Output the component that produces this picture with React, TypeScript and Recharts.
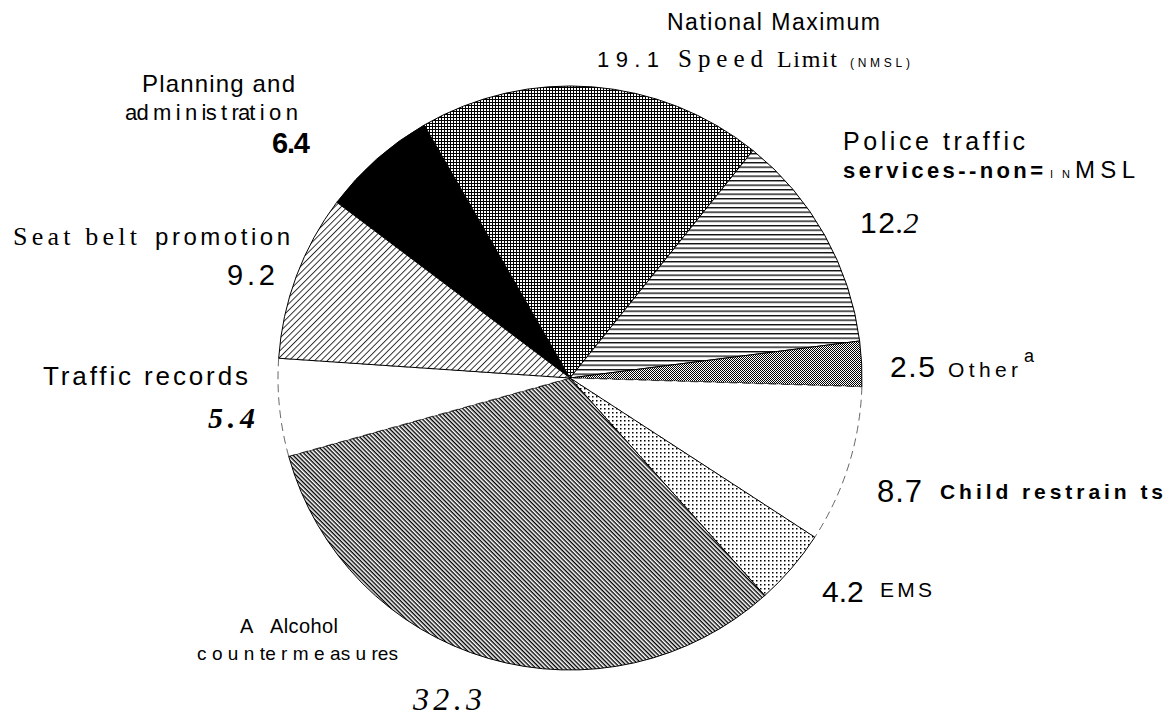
import React from 'react';
import { PieChart, Pie, Cell } from 'recharts';

// ---- data ----
const categories = [
  'Planning and administration',
  'National Maximum Speed Limit (NMSL)',
  'Police traffic services--non-NMSL',
  'Other',
  'Child restraints',
  'EMS',
  'Alcohol countermeasures',
  'Traffic records',
  'Seat belt promotion',
];
const values = [6.4, 19.1, 12.2, 2.5, 8.7, 4.2, 32.3, 5.4, 9.2];
const valueLabels = values.map((v) => v.toFixed(1));
const fills = [
  '#000000',
  'url(#pGrid)',
  'url(#pHoriz)',
  'url(#pChecker)',
  '#ffffff',
  'url(#pDots)',
  'url(#pBack)',
  '#ffffff',
  'url(#pFwd)',
];

const data = categories.map((name, i) => ({ name, value: values[i] }));

const SANS = '"Liberation Sans", Arial, Helvetica, sans-serif';
const SERIF = '"Liberation Serif", "Times New Roman", serif';

export default function App() {
  const [pPlan, pNmsl, pPolice, pOther, pChild, pEms, pAlc, pTraffic, pSeat] = valueLabels;
  return (
    <div style={{ position: 'absolute', left: 0, top: 0, width: 1169, height: 718, background: '#fff' }}>
      <PieChart width={1169} height={718} margin={{ top: 0, right: 0, bottom: 0, left: 0 }}>
        <defs>
          <pattern id="pGrid" width="3" height="3" patternUnits="userSpaceOnUse">
            <rect width="3" height="3" fill="#fff" />
            <path d="M0 0.5H3M0.5 0V3" stroke="#000" strokeWidth="1" />
          </pattern>
          <pattern id="pHoriz" width="4.5" height="4.5" patternUnits="userSpaceOnUse">
            <rect width="4.5" height="4.5" fill="#fff" />
            <path d="M0 0.7H4.5" stroke="#000" strokeWidth="1.3" />
          </pattern>
          <pattern id="pChecker" width="2" height="2" patternUnits="userSpaceOnUse">
            <rect width="2" height="2" fill="#fff" />
            <rect width="1" height="1" fill="#000" />
            <rect x="1" y="1" width="1" height="1" fill="#000" />
          </pattern>
          <pattern id="pDots" width="4" height="4" patternUnits="userSpaceOnUse">
            <rect width="4" height="4" fill="#fff" />
            <rect width="1.5" height="1.5" fill="#000" />
          </pattern>
          <pattern id="pBack" width="3" height="3" patternUnits="userSpaceOnUse" patternTransform="rotate(45)">
            <rect width="3" height="3" fill="#fff" />
            <path d="M0 0.7H3" stroke="#000" strokeWidth="1.4" />
          </pattern>
          <pattern id="pFwd" width="4.5" height="4.5" patternUnits="userSpaceOnUse" patternTransform="rotate(-45)">
            <rect width="4.5" height="4.5" fill="#fff" />
            <path d="M0 0.5H4.5" stroke="#000" strokeWidth="0.8" />
          </pattern>
        </defs>
        <Pie
          data={data}
          dataKey="value"
          nameKey="name"
          cx={570}
          cy={378}
          innerRadius={0}
          outerRadius={292}
          startAngle={143}
          endAngle={-217}
          isAnimationActive={false}
          stroke="#000"
          strokeWidth={1}
          label={false}
          labelLine={false}
        >
          {data.map((d, i) => (
            <Cell
              key={d.name}
              fill={fills[i]}
              stroke="#000"
              strokeWidth={fills[i] === '#ffffff' ? 0.6 : 1}
              strokeDasharray={fills[i] === '#ffffff' ? '8 5' : undefined}
            />
          ))}
        </Pie>

        {/* Planning and administration */}
        <text x={142} y={92} fontFamily={SANS} fontSize={24} textLength={153} lengthAdjust="spacing" fill="#000">Planning and</text>
        <text x={125} y={120} fontFamily={SANS} fontSize={22} textLength={173} lengthAdjust="spacing" fill="#000">ad m i n is t rat i o n</text>
        <text x={272} y={153} fontFamily={SANS} fontSize={29} fontWeight="bold" textLength={38} lengthAdjust="spacing" fill="#000">{pPlan}</text>

        {/* NMSL */}
        <text x={667} y={30} fontFamily={SANS} fontSize={23} textLength={213} lengthAdjust="spacing" fill="#000">National Maximum</text>
        <text y={67} fill="#000">
          <tspan x={597} fontFamily={SANS} fontSize={22} textLength={62} lengthAdjust="spacing">{pNmsl}</tspan>
          <tspan x={678} fontFamily={SERIF} fontSize={25} textLength={85} lengthAdjust="spacing">Speed</tspan>
          <tspan x={777} fontFamily={SERIF} fontSize={24} textLength={60} lengthAdjust="spacing">Limit</tspan>
          <tspan x={850} fontFamily={SANS} fontSize={12} textLength={60} lengthAdjust="spacing">(NMSL)</tspan>
        </text>

        {/* Police traffic services */}
        <text x={843} y={150} fontFamily={SANS} fontSize={25} textLength={182} lengthAdjust="spacing" fill="#000">Police traffic</text>
        <text y={178} fill="#000">
          <tspan x={843} fontFamily={SANS} fontSize={22} fontWeight="bold" textLength={200} lengthAdjust="spacing">services--non=</tspan>
          <tspan x={1050} fontFamily={SANS} fontSize={11} textLength={20} lengthAdjust="spacing">IN</tspan>
          <tspan x={1075} fontFamily={SANS} fontSize={24} textLength={60} lengthAdjust="spacing">MSL</tspan>
        </text>
        <text y={233} fill="#000">
          <tspan x={860} fontFamily={SANS} fontSize={30} textLength={35} lengthAdjust="spacing">{pPolice.split('.')[0]}</tspan>
          <tspan x={896} fontFamily={SERIF} fontSize={30} fontStyle="italic">{'.' + pPolice.split('.')[1]}</tspan>
        </text>

        {/* Other */}
        <text y={377} fill="#000">
          <tspan x={890} fontFamily={SANS} fontSize={30} textLength={45} lengthAdjust="spacing">{pOther}</tspan>
          <tspan x={948} fontFamily={SANS} fontSize={21} textLength={70} lengthAdjust="spacing">Other</tspan>
          <tspan x={1024} y={362} fontFamily={SANS} fontSize={18}>a</tspan>
        </text>

        {/* Child restraints */}
        <text y={502} fill="#000">
          <tspan x={877} fontFamily={SANS} fontSize={31} textLength={45} lengthAdjust="spacing">{pChild}</tspan>
          <tspan x={940} y={499} fontFamily={SANS} fontSize={21} fontWeight="bold" textLength={223} lengthAdjust="spacing">Child restrain ts</tspan>
        </text>

        {/* EMS */}
        <text y={602} fill="#000">
          <tspan x={822} fontFamily={SANS} fontSize={30}>{pEms}</tspan>
          <tspan x={880} y={597} fontFamily={SANS} fontSize={21} textLength={52} lengthAdjust="spacing">EMS</tspan>
        </text>

        {/* Alcohol countermeasures */}
        <text y={633} fill="#000">
          <tspan x={240} fontFamily={SANS} fontSize={20}>A</tspan>
          <tspan x={270} fontFamily={SANS} fontSize={20} textLength={68} lengthAdjust="spacing">Alcohol</tspan>
        </text>
        <text x={197} y={660} fontFamily={SANS} fontSize={19} textLength={201} lengthAdjust="spacing" fill="#000">c o u n te r m e as u res</text>
        <text x={413} y={710} fontFamily={SERIF} fontSize={32} fontStyle="italic" textLength={69} lengthAdjust="spacing" fill="#000">{pAlc}</text>

        {/* Traffic records */}
        <text x={43} y={385} fontFamily={SANS} fontSize={26} textLength={205} lengthAdjust="spacing" fill="#000">Traffic records</text>
        <text x={208} y={428} fontFamily={SERIF} fontSize={30} fontStyle="italic" fontWeight="bold" textLength={47} lengthAdjust="spacing" fill="#000">{pTraffic}</text>

        {/* Seat belt promotion */}
        <text y={245} fill="#000">
          <tspan x={13} fontFamily={SERIF} fontSize={26} textLength={124} lengthAdjust="spacing">Seat belt</tspan>
          <tspan x={155} fontFamily={SANS} fontSize={24} textLength={135} lengthAdjust="spacing">promotion</tspan>
        </text>
        <text x={227} y={285} fontFamily={SANS} fontSize={29} textLength={48} lengthAdjust="spacing" fill="#000">{pSeat}</text>
      </PieChart>
    </div>
  );
}
